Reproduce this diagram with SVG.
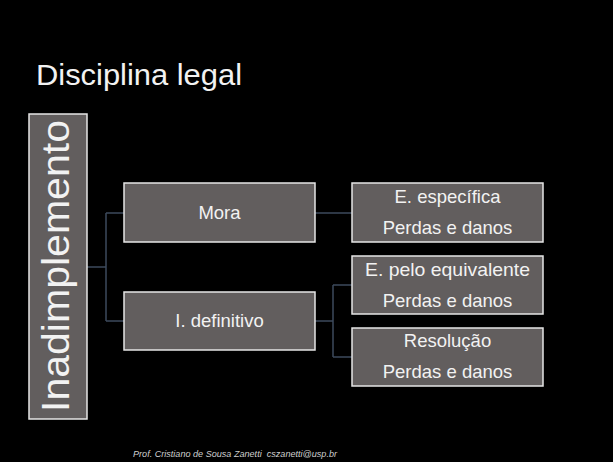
<svg xmlns="http://www.w3.org/2000/svg" width="613" height="462" viewBox="0 0 613 462">
<style>
.box{fill:#625e5e;stroke:#e6e6e6;stroke-width:1.5}
.t{font-family:"Liberation Sans",Arial,sans-serif;fill:#f2f2f2;text-anchor:middle}
.c{fill:none;stroke:#3c4a5c;stroke-width:1.5}
</style>
<rect x="0" y="0" width="613" height="462" fill="#000"/>
<text x="36" y="85" font-family="Liberation Sans, Arial, sans-serif" font-size="29" fill="#f2f2f2" textLength="206" lengthAdjust="spacingAndGlyphs">Disciplina legal</text>
<g id="connectors">
<path class="c" d="M87,267 H106 M106,213 V321 M106,213 H124 M106,321 H124"/>
<path class="c" d="M315,213 H352"/>
<path class="c" d="M315,321 H333 M333,285 V357 M333,285 H352 M333,357 H352"/>
</g>
<g id="inadimplemento">
<rect class="box" x="29" y="114" width="58" height="305"/>
<text class="t" transform="translate(69,266) rotate(-90)" x="0" y="0" font-size="39" textLength="292" lengthAdjust="spacingAndGlyphs">Inadimplemento</text>
</g>
<g id="mora">
<rect class="box" x="124" y="183" width="191" height="59"/>
<text class="t" x="219.5" y="219" font-size="18.5">Mora</text>
</g>
<g id="idefinitivo">
<rect class="box" x="124" y="292" width="191" height="58"/>
<text class="t" x="219.5" y="327" font-size="18.5">I. definitivo</text>
</g>
<g id="especifica">
<rect class="box" x="352" y="183" width="191" height="59"/>
<text class="t" x="447.5" y="203" font-size="18.5">E. específica</text>
<text class="t" x="447.5" y="234" font-size="18.5">Perdas e danos</text>
</g>
<g id="equivalente">
<rect class="box" x="352" y="256" width="191" height="58"/>
<text class="t" x="447.5" y="276" font-size="18.5" textLength="165" lengthAdjust="spacingAndGlyphs">E. pelo equivalente</text>
<text class="t" x="447.5" y="306.5" font-size="18.5">Perdas e danos</text>
</g>
<g id="resolucao">
<rect class="box" x="352" y="328" width="191" height="58"/>
<text class="t" x="447.5" y="346.5" font-size="18.5">Resolução</text>
<text class="t" x="447.5" y="378" font-size="18.5">Perdas e danos</text>
</g>
<text x="133" y="457" xml:space="preserve" font-family="Liberation Sans, Arial, sans-serif" font-size="9" font-style="italic" fill="#cfcfcf" textLength="204" lengthAdjust="spacingAndGlyphs">Prof. Cristiano de Sousa Zanetti  cszanetti@usp.br</text>
</svg>
